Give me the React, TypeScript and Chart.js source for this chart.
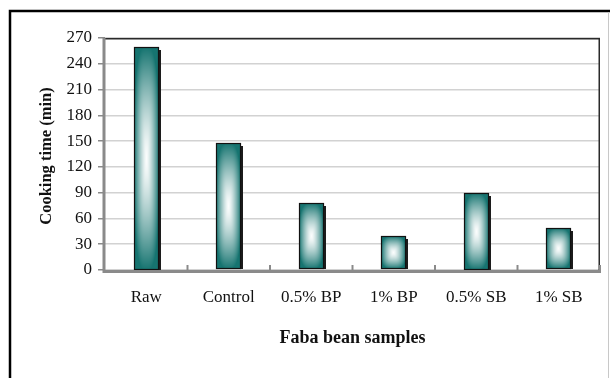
import React, { useEffect, useRef } from 'react';
import { Chart, registerables } from 'chart.js';

Chart.register(...registerables);

// Cooking time of faba bean samples (minutes)
const categories = ['Raw', 'Control', '0.5% BP', '1% BP', '0.5% SB', '1% SB'];
const cookingTime = [260, 148, 78, 39, 90, 49];
const yMin = 0;
const yMax = 270;
const yStep = 30;
const xTitle = 'Faba bean samples';
const yTitle = 'Cooking time (min)';

const WIDTH = 611;
const HEIGHT = 378;
const SERIF = '"Liberation Serif", "Times New Roman", serif';

const EDGE = [22, 116, 112];
const CENTER = [250, 252, 252];

// Centre-out gradient: teal edges fading to near-white in the middle,
// with rounded-rectangle contours so the diagonals stay soft.
function makeBarImage(w: number, h: number): HTMLCanvasElement {
  const c = document.createElement('canvas');
  c.width = Math.max(1, w);
  c.height = Math.max(1, h);
  const ctx = c.getContext('2d')!;
  const img = ctx.createImageData(c.width, c.height);
  const hw = c.width / 2;
  const hh = c.height / 2;
  const p = 3;
  for (let y = 0; y < c.height; y++) {
    for (let x = 0; x < c.width; x++) {
      const dx = Math.abs(x + 0.5 - hw) / hw;
      const dy = Math.abs(y + 0.5 - hh) / hh;
      const d = Math.min(1, Math.pow(Math.pow(dx, p) + Math.pow(dy, p), 1 / p));
      const t = Math.pow(d, 1.4);
      const i = (y * c.width + x) * 4;
      img.data[i] = CENTER[0] + (EDGE[0] - CENTER[0]) * t;
      img.data[i + 1] = CENTER[1] + (EDGE[1] - CENTER[1]) * t;
      img.data[i + 2] = CENTER[2] + (EDGE[2] - CENTER[2]) * t;
      img.data[i + 3] = 255;
    }
  }
  ctx.putImageData(img, 0, 0);
  return c;
}

const framePlugin = {
  id: 'frame',
  beforeDraw(chart: any) {
    const ctx = chart.ctx;
    ctx.save();
    ctx.fillStyle = '#ffffff';
    ctx.fillRect(0, 0, WIDTH, HEIGHT);
    // outer figure border
    ctx.strokeStyle = '#000';
    ctx.lineWidth = 2.5;
    ctx.beginPath();
    ctx.moveTo(10, HEIGHT);
    ctx.lineTo(10, 11);
    ctx.lineTo(610, 11);
    ctx.stroke();
    ctx.strokeStyle = '#c8c8c8';
    ctx.lineWidth = 1;
    ctx.beginPath();
    ctx.moveTo(608.5, 12);
    ctx.lineTo(608.5, HEIGHT);
    ctx.stroke();
    ctx.restore();
  },
  afterDatasetsDraw(chart: any) {
    const ctx = chart.ctx;
    const meta = chart.getDatasetMeta(0);
    ctx.save();
    meta.data.forEach((bar: any) => {
      const p = bar.getProps(['x', 'y', 'base', 'width'], true);
      const left = Math.round(p.x - p.width / 2);
      const top = Math.round(p.y);
      const w = Math.round(p.width);
      const h = Math.round(p.base - p.y);
      // drop shadow on the right
      ctx.fillStyle = '#1c1c1c';
      ctx.fillRect(left + 2, top + 3, w, h - 3);
      ctx.drawImage(makeBarImage(w, h), left, top);
      ctx.strokeStyle = '#111';
      ctx.lineWidth = 1.2;
      ctx.strokeRect(left + 0.5, top + 0.5, w - 1, h - 1);
    });

    const { left, right, top, bottom } = chart.chartArea;
    const xs = chart.scales.x;

    // plot frame: dark top/right, grey axes left/bottom
    ctx.strokeStyle = '#2a2a2a';
    ctx.lineWidth = 1.5;
    ctx.beginPath();
    ctx.moveTo(left, top + 0.75);
    ctx.lineTo(right - 0.75, top + 0.75);
    ctx.lineTo(right - 0.75, bottom);
    ctx.stroke();

    ctx.strokeStyle = '#8a8a8a';
    ctx.lineWidth = 3;
    ctx.beginPath();
    ctx.moveTo(left - 1, top);
    ctx.lineTo(left - 1, bottom + 1.5);
    ctx.lineTo(right + 1, bottom + 1.5);
    ctx.stroke();

    // category separator marks on the x axis
    ctx.lineWidth = 2;
    for (let i = 0; i < categories.length; i++) {
      const edge =
        i < categories.length - 1
          ? (xs.getPixelForValue(i) + xs.getPixelForValue(i + 1)) / 2
          : right;
      ctx.beginPath();
      ctx.moveTo(edge, bottom);
      ctx.lineTo(edge, bottom - 5);
      ctx.stroke();
    }

    // axis titles
    ctx.fillStyle = '#111';
    ctx.textAlign = 'center';
    ctx.textBaseline = 'middle';
    ctx.font = `bold 18px ${SERIF}`;
    ctx.fillText(xTitle, (left + right) / 2, 338);
    ctx.save();
    ctx.translate(47, (top + bottom) / 2 + 2);
    ctx.rotate(-Math.PI / 2);
    ctx.font = `bold 16.5px ${SERIF}`;
    ctx.fillText(yTitle, 0, 0);
    ctx.restore();
    ctx.restore();
  },
};

export default function App() {
  const canvasRef = useRef<HTMLCanvasElement | null>(null);

  useEffect(() => {
    if (!canvasRef.current) return;
    const chart = new Chart(canvasRef.current, {
      type: 'bar',
      data: {
        labels: categories,
        datasets: [
          {
            data: cookingTime,
            backgroundColor: 'rgba(0,0,0,0)',
            borderWidth: 0,
            barPercentage: 0.6,
            categoryPercentage: 0.5,
          },
        ],
      },
      options: {
        responsive: false,
        animation: false,
        devicePixelRatio: 1,
        layout: { padding: { top: 38, right: 11, left: 0, bottom: 0 } },
        plugins: {
          legend: { display: false },
          tooltip: { enabled: false },
        },
        scales: {
          x: {
            grid: { display: false, drawTicks: false },
            border: { display: false },
            ticks: {
              color: '#111',
              padding: 17,
              font: { family: SERIF, size: 17 },
              maxRotation: 0,
              autoSkip: false,
            },
            afterFit: (scale: any) => {
              scale.height = HEIGHT - 270;
            },
          },
          y: {
            min: yMin,
            max: yMax,
            grid: {
              color: '#d2d2d2',
              lineWidth: 1.5,
              tickColor: '#8a8a8a',
              tickLength: 7,
            },
            border: { display: false },
            ticks: {
              stepSize: yStep,
              color: '#111',
              padding: 6,
              font: { family: SERIF, size: 17 },
            },
            afterFit: (scale: any) => {
              scale.width = 105;
            },
          },
        },
      },
      plugins: [framePlugin],
    });
    return () => chart.destroy();
  }, []);

  return (
    <div style={{ position: 'fixed', left: 0, top: 0, width: WIDTH, height: HEIGHT }}>
      <canvas ref={canvasRef} width={WIDTH} height={HEIGHT} />
    </div>
  );
}
